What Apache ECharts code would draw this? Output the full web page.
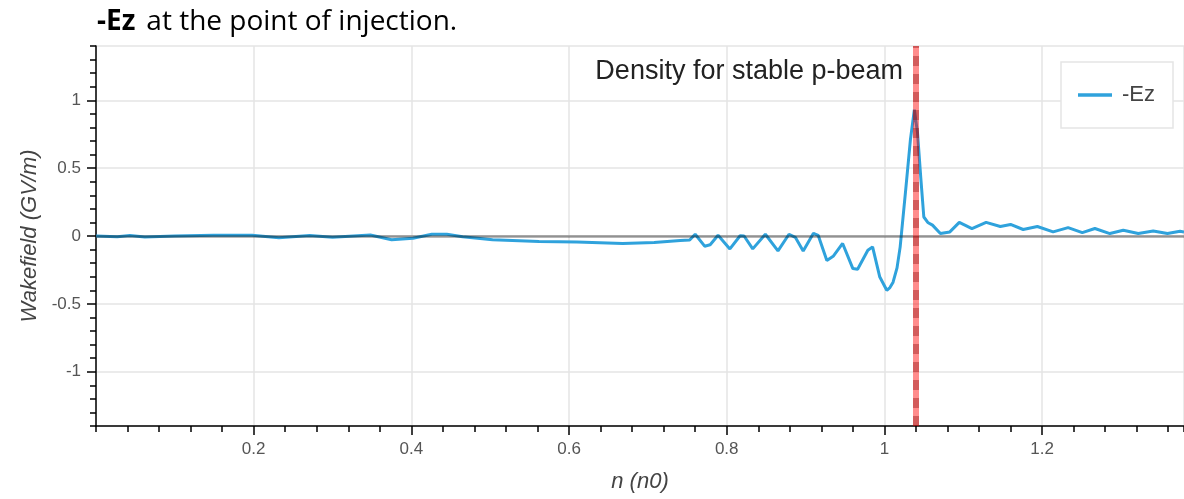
<!DOCTYPE html>
<html>
<head>
<meta charset="utf-8">
<script src="https://cdn.jsdelivr.net/npm/echarts@6/dist/echarts.min.js"></script>
<style>html,body{margin:0;padding:0;background:#fff;}#c{width:1184px;height:499px;}</style>
</head>
<body>
<div id="c"></div>
<script>
// ---- data ----
const nValues = [0.000,0.027,0.043,0.062,0.100,0.149,0.198,0.232,0.271,0.300,0.348,0.375,0.402,0.426,0.445,0.465,0.503,0.562,0.610,0.668,0.708,0.741,0.753,0.760,0.772,0.779,0.789,0.804,0.817,0.822,0.833,0.849,0.865,0.879,0.887,0.897,0.910,0.916,0.927,0.935,0.947,0.960,0.966,0.979,0.985,0.994,1.003,1.007,1.011,1.016,1.020,1.027,1.033,1.038,1.042,1.046,1.050,1.055,1.061,1.071,1.083,1.095,1.111,1.129,1.147,1.160,1.176,1.194,1.214,1.233,1.251,1.267,1.286,1.303,1.322,1.341,1.359,1.375,1.380];
const ezValues = [0.000,-0.005,0.004,-0.007,0.000,0.005,0.005,-0.013,0.004,-0.010,0.007,-0.028,-0.017,0.013,0.013,-0.006,-0.028,-0.040,-0.045,-0.055,-0.048,-0.033,-0.030,0.013,-0.075,-0.065,0.005,-0.095,0.002,0.000,-0.095,0.013,-0.110,0.013,-0.010,-0.110,0.020,0.005,-0.180,-0.150,-0.055,-0.240,-0.245,-0.105,-0.080,-0.300,-0.400,-0.380,-0.340,-0.235,-0.080,0.340,0.710,0.930,0.760,0.440,0.140,0.100,0.080,0.018,0.030,0.100,0.055,0.100,0.070,0.085,0.048,0.070,0.030,0.062,0.025,0.055,0.018,0.042,0.018,0.037,0.018,0.035,0.030];
const xMajorTicks = [0.2,0.4,0.6,0.8,1.0,1.2];
const yMajorTicks = [-1,-0.5,0,0.5,1];
const stableDensity = 1.038;
const seriesName = '-Ez';

const chart = echarts.init(document.getElementById('c'), null, {renderer:'canvas'});
const FONT = 'Liberation Sans, Arial, sans-serif';
const axisBlack = {color:'#000', width:1.5};

const option = {
  animation:false,
  backgroundColor:'#fff',
  title:[
    {left:97, top:8, padding:0,
     text:'{b|-Ez}{n|at the point of injection.}',
     textStyle:{rich:{
       b:{fontFamily:'Open Sans', fontWeight:'bold', fontSize:28, color:'#000', padding:[0,11,0,0]},
       n:{fontFamily:'Open Sans', fontWeight:'normal', fontSize:28, color:'#000'}
     }}},
    {right:281, top:58, padding:0, text:'Density for stable p-beam',
     textStyle:{fontFamily:FONT, fontSize:27, fontWeight:'normal', color:'#222'}}
  ],
  legend:{
    data:[seriesName], left:1061, top:62,
    padding:[22,18,22,17],
    backgroundColor:'#fff', borderColor:'#e5e5e5', borderWidth:1.5, borderRadius:0,
    icon:'rect', itemWidth:34, itemHeight:3.5, itemGap:10,
    textStyle:{fontFamily:FONT, fontSize:22, color:'#444', padding:[0,0,0,5]}
  },
  grid:{left:96, right:0, top:46, bottom:73, show:true, borderColor:'#e5e5e5', borderWidth:1.5, containLabel:false},
  xAxis:[
    {type:'value', min:0, max:1.38, interval:0.04, position:'bottom',
     axisLine:{show:true, onZero:false, lineStyle:axisBlack},
     axisTick:{show:true, length:6, lineStyle:axisBlack},
     axisLabel:{show:false}, splitLine:{show:false}},
    {type:'value', min:0, max:1.38, position:'bottom',
     name:'n (n0)', nameLocation:'middle', nameGap:45,
     nameTextStyle:{fontFamily:FONT, fontSize:22, fontStyle:'italic', color:'#444'},
     axisLine:{show:false, onZero:false},
     axisTick:{show:true, length:9, customValues:xMajorTicks, lineStyle:axisBlack},
     axisLabel:{show:true, customValues:xMajorTicks, margin:15, fontFamily:FONT, fontSize:17, color:'#555',
       formatter:v=>String(+v.toFixed(2))},
     splitLine:{show:true, lineStyle:{color:'#e5e5e5', width:1.5}}}
  ],
  yAxis:[
    {type:'value', min:-1.4, max:1.4, interval:0.1, position:'left',
     axisLine:{show:true, onZero:false, lineStyle:axisBlack},
     axisTick:{show:true, length:6, lineStyle:axisBlack},
     axisLabel:{show:false}, splitLine:{show:false}},
    {type:'value', min:-1.4, max:1.4, position:'left',
     name:'Wakefield (GV/m)', nameLocation:'middle', nameGap:55,
     nameTextStyle:{fontFamily:FONT, fontSize:22, fontStyle:'italic', color:'#444'},
     axisLine:{show:false, onZero:false},
     axisTick:{show:true, length:9, customValues:yMajorTicks, lineStyle:axisBlack},
     axisLabel:{show:true, customValues:yMajorTicks, margin:15, fontFamily:FONT, fontSize:17, color:'#555',
       formatter:v=>String(+v.toFixed(2))},
     splitLine:{show:true, lineStyle:{color:'#e5e5e5', width:1.5}}}
  ],
  series:[
    {name:seriesName, type:'line', xAxisIndex:0, yAxisIndex:0, z:3,
     data:nValues.map((n,i)=>[n, ezValues[i]]),
     showSymbol:false, symbol:'none',
     lineStyle:{color:'#2fa2dc', width:3}, itemStyle:{color:'#2fa2dc'}},
    {name:'guides', type:'line', xAxisIndex:0, yAxisIndex:0, z:5, data:[],
     markLine:{silent:true, symbol:['none','none'], label:{show:false}, animation:false,
       data:[
         {yAxis:0, lineStyle:{color:'rgba(0,0,0,0.38)', width:2.5, type:'solid'}},
         {xAxis:stableDensity, lineStyle:{color:'rgba(255,0,0,0.45)', width:6, type:'solid'}},
         {xAxis:stableDensity, lineStyle:{color:'rgba(128,0,0,0.35)', width:6, type:[10,8]}}
       ]}}
  ]
};
chart.setOption(option);
</script>
</body>
</html>
